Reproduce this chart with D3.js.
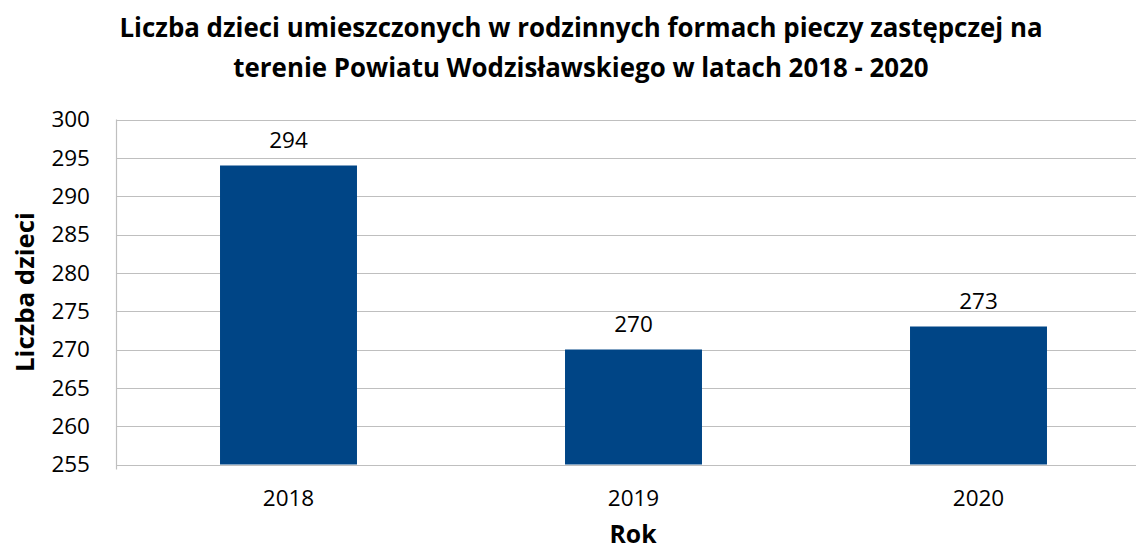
<!DOCTYPE html>
<html><head><meta charset="utf-8">
<script src="https://cdn.jsdelivr.net/npm/d3@7"></script>
<style>body{margin:0;background:#fff}svg{display:block}text{font-family:"Open Sans",Lato,sans-serif}</style>
</head><body><svg id="c" width="1136" height="552"></svg>
<script>
const categories = ["2018","2019","2020"];
const values = [294,270,273];
const yTicks = [255,260,265,270,275,280,285,290,295,300];
const titleLines = ["Liczba dzieci umieszczonych w rodzinnych formach pieczy zastępczej na","terenie Powiatu Wodzisławskiego w latach 2018 - 2020"];
const yTitle = "Liczba dzieci";
const xTitle = "Rok";

const FONT = "'Open Sans',Lato,sans-serif";
const svg = d3.select("#c");
const L=116, R=1151, T=119.5, B=464.5;
const x = d3.scaleBand().domain(categories).range([L,R]).paddingInner(0.603).paddingOuter(0.3015);
const y = d3.scaleLinear().domain([255,300]).range([B,T]);

function fit(sel, target){
  sel.each(function(){
    const w = this.getComputedTextLength();
    const s = parseFloat(d3.select(this).attr("font-size"));
    d3.select(this).attr("font-size", (s*target/w).toFixed(2));
  });
}

// grid
svg.append("g").selectAll("line").data(yTicks).join("line")
  .attr("x1",L).attr("x2",R).attr("y1",d=>Math.round(y(d))+0.5).attr("y2",d=>Math.round(y(d))+0.5)
  .attr("stroke","#bfbfbf").attr("stroke-width",1.2);
svg.append("line").attr("x1",L+0.5).attr("x2",L+0.5).attr("y1",T).attr("y2",B+5).attr("stroke","#bfbfbf").attr("stroke-width",1.2);

// y axis labels
const ya = svg.append("g").attr("transform",`translate(${L},0)`)
  .call(d3.axisLeft(y).tickValues(yTicks).tickSize(0).tickPadding(26));
ya.select(".domain").remove();
ya.selectAll("text").attr("font-size",22.5).attr("fill","#000").style("font-family",FONT);

// bars
svg.append("g").selectAll("rect").data(values).join("rect")
  .attr("x",(d,i)=>x(categories[i])).attr("width",x.bandwidth())
  .attr("y",d=>y(d)).attr("height",d=>B-y(d)).attr("fill","#004586");

// value labels
svg.append("g").selectAll("text").data(values).join("text")
  .attr("x",(d,i)=>x(categories[i])+x.bandwidth()/2).attr("y",d=>y(d)-18)
  .attr("text-anchor","middle").attr("font-size",22.5).attr("fill","#000").text(d=>d);

// x axis labels
const xa = svg.append("g").attr("transform",`translate(0,${B})`)
  .call(d3.axisBottom(x).tickSize(0).tickPadding(26));
xa.select(".domain").remove();
xa.selectAll("text").attr("font-size",22.5).attr("fill","#000").style("font-family",FONT);

// titles
const tl = svg.append("g").selectAll("text").data(titleLines).join("text")
  .attr("x",581).attr("y",(d,i)=>37+i*40).attr("text-anchor","middle")
  .attr("font-size",26).attr("font-weight","bold").attr("fill","#000").text(d=>d);
fit(tl.filter((d,i)=>i===0), 923);
tl.filter((d,i)=>i===1).attr("font-size", tl.filter((d,i)=>i===0).attr("font-size"));
const xt = svg.append("text").attr("x",633).attr("y",543).attr("text-anchor","middle")
  .attr("font-size",26).attr("font-weight","bold").text(xTitle);
fit(xt, 47);
const yt = svg.append("text").attr("transform","translate(34,292) rotate(-90)").attr("text-anchor","middle")
  .attr("font-size",26).attr("font-weight","bold").text(yTitle);
fit(yt, 160);
</script></body></html>
